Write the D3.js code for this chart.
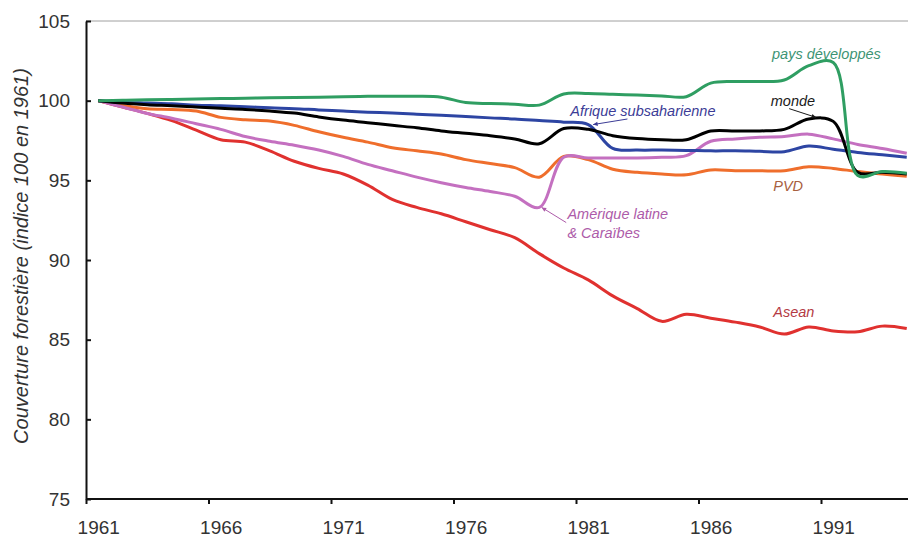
<!DOCTYPE html>
<html lang="fr">
<head>
    <meta charset="UTF-8">
    <title>Couverture forestière</title>
    <script src="https://d3js.org/d3.v7.min.js"></script>
    <style>
        body { margin: 0; background: #fff; }
        text { font-family: "Liberation Sans", Arial, sans-serif; }
    </style>
</head>
<body>

<script>
    // years on the category axis
    years = [1961, 1962, 1963, 1964, 1965, 1966, 1967, 1968, 1969, 1970,
             1971, 1972, 1973, 1974, 1975, 1976, 1977, 1978, 1979, 1980,
             1981, 1982, 1983, 1984, 1985, 1986, 1987, 1988, 1989, 1990,
             1991, 1992, 1993, 1994]

    xTickYears = [1961, 1966, 1971, 1976, 1981, 1986, 1991]
    yTicks = [75, 80, 85, 90, 95, 100, 105]

    // forest cover index (100 in 1961)
    asean = [100, 99.6, 99.2, 98.75, 98.15, 97.55, 97.4, 96.85, 96.2, 95.75,
             95.4, 94.7, 93.8, 93.3, 92.9, 92.4, 91.9, 91.4, 90.4, 89.5,
             88.75, 87.75, 86.95, 86.15, 86.6, 86.35, 86.1, 85.8, 85.35, 85.8,
             85.55, 85.5, 85.85, 85.7]

    ameriqueLatine = [100, 99.6, 99.2, 98.9, 98.55, 98.2, 97.75, 97.45, 97.2, 96.9,
             96.5, 96.0, 95.6, 95.2, 94.85, 94.55, 94.3, 94.0, 93.3, 96.45,
             96.4, 96.4, 96.4, 96.45, 96.55, 97.45, 97.6, 97.7, 97.75, 97.9,
             97.6, 97.25, 97.0, 96.7]

    pvd = [100, 99.7, 99.5, 99.45, 99.35, 98.95, 98.8, 98.72, 98.45, 98.05,
             97.7, 97.4, 97.05, 96.85, 96.65, 96.3, 96.05, 95.8, 95.2, 96.5,
             96.3, 95.7, 95.5, 95.4, 95.35, 95.65, 95.6, 95.6, 95.6, 95.85,
             95.75, 95.55, 95.4, 95.25]

    afrique = [100, 99.9, 99.85, 99.8, 99.72, 99.68, 99.62, 99.55, 99.5, 99.42,
             99.35, 99.28, 99.22, 99.15, 99.08, 99.0, 98.92, 98.85, 98.75, 98.65,
             98.5, 97.0, 96.9, 96.9, 96.88, 96.85, 96.85, 96.82, 96.8, 97.15,
             96.95, 96.75, 96.6, 96.45]

    monde = [100, 99.85, 99.75, 99.68, 99.6, 99.52, 99.45, 99.35, 99.22, 98.98,
             98.78, 98.62, 98.45, 98.3, 98.1, 97.95, 97.8, 97.6, 97.3, 98.25,
             98.2, 97.8, 97.62, 97.55, 97.55, 98.1, 98.1, 98.1, 98.2, 98.85,
             98.7, 95.5, 95.5, 95.4]

    paysDev = [100, 100.02, 100.05, 100.08, 100.1, 100.13, 100.15, 100.18, 100.2, 100.22,
             100.25, 100.27, 100.28, 100.28, 100.22, 99.88, 99.82, 99.78, 99.72, 100.42,
             100.45, 100.4, 100.35, 100.3, 100.25, 101.1, 101.2, 101.2, 101.3, 102.2,
             102.4, 95.3, 95.55, 95.45]

    series = [
        {name: "Asean", values: asean, color: "#e0312f"},
        {name: "PVD", values: pvd, color: "#ef6e2c"},
        {name: "Amérique latine", values: ameriqueLatine, color: "#c470c0"},
        {name: "Afrique subsaharienne", values: afrique, color: "#2d45a3"},
        {name: "monde", values: monde, color: "#000000"},
        {name: "pays développés", values: paysDev, color: "#2f9e62"}
    ]

    //chart dimensions
    w = 908
    h = 538
    margin = {top: 21, left: 86, bottom: 39}
    band = 24.5

    svg = d3.select("body")
        .append("svg")
        .attr("width", w)
        .attr("height", h)

    //scales: one band per year, points in the middle of each band
    x = d3.scaleLinear()
        .domain([years[0] - 0.5, years[years.length - 1] + 0.5])
        .range([margin.left, margin.left + years.length * band])

    y = d3.scaleLinear()
        .domain([75, 105])
        .range([h - margin.bottom, margin.top])

    // top border line at 105
    svg.append("line")
        .attr("x1", margin.left).attr("x2", w)
        .attr("y1", y(105)).attr("y2", y(105))
        .attr("stroke", "#a0a0a0")
        .attr("stroke-width", 1)

    //axes
    yAxis = svg.append("g")
        .attr("transform", "translate(" + margin.left + ",0)")
        .call(d3.axisLeft(y).tickValues(yTicks).tickSizeInner(-5).tickSizeOuter(0).tickPadding(16))
    yAxis.select(".domain").attr("stroke", "#111").attr("stroke-width", 2)
    yAxis.selectAll(".tick line").attr("stroke", "#111").attr("stroke-width", 2)
    yAxis.selectAll(".tick text")
        .attr("font-size", 19)
        .attr("fill", "#333")
        .style("font-family", "'Liberation Sans', Arial, sans-serif")

    xAxis = svg.append("g")
        .attr("transform", "translate(0," + y(75) + ")")
        .call(d3.axisBottom(x).tickValues(xTickYears).tickFormat(d3.format("d"))
            .tickSizeInner(5).tickSizeOuter(0).tickPadding(17))
    xAxis.select(".domain").attr("stroke", "#111").attr("stroke-width", 2)
        .attr("d", "M" + margin.left + ",0H" + w)
    // tick marks sit on the band edges, labels stay centred on the year
    xAxis.selectAll(".tick line")
        .attr("x1", -band / 2).attr("x2", -band / 2)
        .attr("stroke", "#111").attr("stroke-width", 2)
    xAxis.selectAll(".tick text")
        .attr("font-size", 19)
        .attr("fill", "#333")
        .style("font-family", "'Liberation Sans', Arial, sans-serif")

    svg.append("text")
        .attr("transform", "translate(28," + 256 + ") rotate(-90)")
        .attr("text-anchor", "middle")
        .attr("font-size", 20)
        .attr("font-style", "italic")
        .attr("fill", "#333")
        .text("Couverture forestière (indice 100 en 1961)")

    //lines
    line = d3.line()
        .x((d, i) => x(years[i]))
        .y(d => y(d))
        .curve(d3.curveCatmullRom.alpha(0.5))

    svg.selectAll("path.serie")
        .data(series)
        .join("path")
        .attr("class", "serie")
        .attr("d", d => line(d.values))
        .attr("fill", "none")
        .attr("stroke", d => d.color)
        .attr("stroke-width", 3)
        .attr("stroke-linejoin", "round")

    //labels
    labels = [
        {text: "pays développés", yr: 1988.5, v: 102.63, color: "#3d9474"},
        {text: "monde", yr: 1988.45, v: 99.69, color: "#1a1a1a"},
        {text: "Afrique subsaharienne", yr: 1980.27, v: 99.06, color: "#3c3c96"},
        {text: "Amérique latine", yr: 1980.15, v: 92.6, color: "#ad5ba9"},
        {text: "& Caraïbes", yr: 1980.15, v: 91.35, color: "#ad5ba9"},
        {text: "PVD", yr: 1988.55, v: 94.3, color: "#a8603f"},
        {text: "Asean", yr: 1988.55, v: 86.4, color: "#b43a44"}
    ]

    svg.selectAll("text.lab")
        .data(labels)
        .join("text")
        .attr("class", "lab")
        .attr("x", d => x(d.yr))
        .attr("y", d => y(d.v))
        .attr("font-size", 14.5)
        .attr("font-style", "italic")
        .attr("fill", d => d.color)
        .text(d => d.text)

    //arrows from labels to the lines
    arrows = [
        {from: [1989.2, 99.5], to: [1990.3, 98.95], color: "#1a1a1a"},
        {from: [1982.6, 98.85], to: [1981.2, 98.5], color: "#3c3c96"},
        {from: [1980.1, 92.35], to: [1979.1, 93.3], color: "#ad5ba9"}
    ]

    arrows.forEach(a => {
        x1 = x(a.from[0]); y1 = y(a.from[1])
        x2 = x(a.to[0]); y2 = y(a.to[1])
        ang = Math.atan2(y2 - y1, x2 - x1)
        svg.append("line")
            .attr("x1", x1).attr("y1", y1)
            .attr("x2", x2).attr("y2", y2)
            .attr("stroke", a.color)
            .attr("stroke-width", 1)
        s = 5
        p1 = [x2 - s * Math.cos(ang - 0.45), y2 - s * Math.sin(ang - 0.45)]
        p2 = [x2 - s * Math.cos(ang + 0.45), y2 - s * Math.sin(ang + 0.45)]
        svg.append("path")
            .attr("d", "M" + x2 + "," + y2 + "L" + p1 + "L" + p2 + "Z")
            .attr("fill", a.color)
    })

</script>

</body>
</html>
